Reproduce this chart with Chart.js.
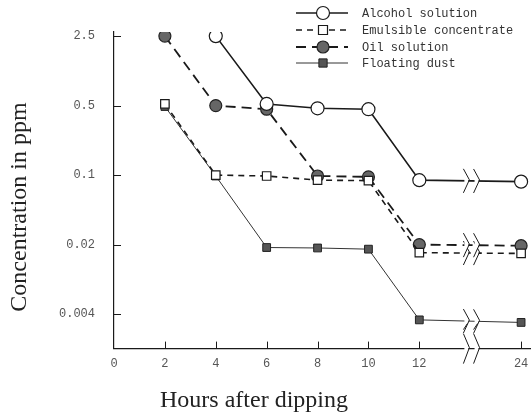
<!DOCTYPE html>
<html>
<head>
<meta charset="utf-8">
<script src="https://cdn.jsdelivr.net/npm/chart.js@4.4.1/dist/chart.umd.min.js"></script>
<style>
  html, body { margin: 0; padding: 0; background: #fff; }
  #wrap { width: 532px; height: 416px; position: relative; }
</style>
</head>
<body>
<div id="wrap"><canvas id="chart" width="532" height="416"></canvas></div>
<script>
// Часы после погружения (24 ч стоит за разрывом оси)
const hours = [2, 4, 6, 8, 10, 12, 24];
const alcohol = [null, 2.5, 0.52, 0.47, 0.46, 0.089, 0.086];
const emulsible = [0.52, 0.1, 0.098, 0.089, 0.088, 0.0166, 0.0163];
const oil = [2.5, 0.5, 0.46, 0.098, 0.096, 0.02, 0.0195];
const dust = [0.49, 0.098, 0.0187, 0.0185, 0.018, 0.0035, 0.0033];

const yTicks = [2.5, 0.5, 0.1, 0.02, 0.004];
const xTickHours = [0, 2, 4, 6, 8, 10, 12, 24];
const seriesNames = ['Alcohol solution', 'Emulsible concentrate', 'Oil solution', 'Floating dust'];

// Сжатая ось после 12 ч
const xPos = h => h > 12 ? 12 + (h - 12) / 3 : h;
const toPoints = vals => hours.map((h, i) => ({ x: xPos(h), y: vals[i] })).filter(p => p.y !== null);

const INK = '#1a1a1a';
const monoFont = { family: '"Liberation Mono", "DejaVu Sans Mono", monospace', size: 12 };
const serif = '"Liberation Serif", "DejaVu Serif", serif';

const datasets = [
    {
        label: seriesNames[0], data: toPoints(alcohol),
        borderColor: INK, borderWidth: 1.6, pointStyle: 'circle', pointRadius: 6.5,
        pointBackgroundColor: '#fff', pointBorderColor: INK, pointBorderWidth: 1.2
    },
    {
        label: seriesNames[1], data: toPoints(emulsible),
        borderColor: INK, borderWidth: 1.6, borderDash: [6, 5], pointStyle: 'rect', pointRadius: 6,
        pointBackgroundColor: '#fff', pointBorderColor: INK, pointBorderWidth: 1.2
    },
    {
        label: seriesNames[2], data: toPoints(oil),
        borderColor: INK, borderWidth: 1.8, borderDash: [10, 6], pointStyle: 'circle', pointRadius: 6,
        pointBackgroundColor: '#666', pointBorderColor: '#222', pointBorderWidth: 1.2
    },
    {
        label: seriesNames[3], data: toPoints(dust),
        borderColor: '#333', borderWidth: 1, pointStyle: 'rect', pointRadius: 5.5,
        pointBackgroundColor: '#555', pointBorderColor: '#222', pointBorderWidth: 1
    }
];

// Деления внутрь, знаки разрыва, подписи осей и легенда
const decorPlugin = {
    id: 'decor',
    afterDraw(chart) {
        const { ctx, chartArea: a, scales: { x, y } } = chart;
        ctx.save();
        ctx.strokeStyle = INK;
        ctx.lineWidth = 1;
        ctx.setLineDash([]);
        yTicks.forEach(v => {
            const py = Math.round(y.getPixelForValue(v)) + 0.5;
            ctx.beginPath(); ctx.moveTo(a.left, py); ctx.lineTo(a.left + 7, py); ctx.stroke();
        });
        xTickHours.forEach(h => {
            if (h === 0) return;
            const px = Math.round(x.getPixelForValue(xPos(h))) + 0.5;
            ctx.beginPath(); ctx.moveTo(px, a.bottom); ctx.lineTo(px, a.bottom - 7); ctx.stroke();
        });

        // разрыв между 12 и 24
        const breaks = [13.85, 14.25];
        const zig = (bx, by, h) => {
            ctx.fillStyle = '#fff';
            ctx.fillRect(bx - 2, by - 3, 4, 6);
            ctx.beginPath();
            ctx.moveTo(bx - 3, by - h);
            ctx.lineTo(bx + 3, by - 1);
            ctx.lineTo(bx - 3, by + h);
            ctx.stroke();
        };
        chart.data.datasets.forEach((ds, di) => {
            const pts = chart.getDatasetMeta(di).data;
            const p1 = pts[pts.length - 2], p2 = pts[pts.length - 1];
            breaks.forEach(b => {
                const bx = x.getPixelForValue(b);
                const t = (bx - p1.x) / (p2.x - p1.x);
                zig(bx, p1.y + t * (p2.y - p1.y), 12);
            });
        });
        breaks.forEach(b => zig(x.getPixelForValue(b), a.bottom, 15));
        breaks.forEach(b => {
            const bx = x.getPixelForValue(b);
            ctx.beginPath(); ctx.moveTo(bx - 3, a.bottom - 19); ctx.lineTo(bx + 1, a.bottom - 25); ctx.stroke();
        });

        // подписи осей
        ctx.fillStyle = '#222';
        ctx.font = '24px ' + serif;
        ctx.textAlign = 'center';
        ctx.textBaseline = 'middle';
        ctx.fillText('Hours after dipping', 254, 401);
        ctx.save();
        ctx.translate(20, 207);
        ctx.rotate(-Math.PI / 2);
        ctx.fillText('Concentration in ppm', 0, 0);
        ctx.restore();

        // легенда
        const lx0 = 296, lx1 = 348, tx = 362;
        const rows = [13, 30, 47, 63];
        ctx.font = '12px "Liberation Mono", "DejaVu Sans Mono", monospace';
        ctx.textAlign = 'left';
        chart.data.datasets.forEach((ds, di) => {
            const ly = rows[di];
            ctx.strokeStyle = ds.borderColor;
            ctx.lineWidth = ds.borderWidth;
            ctx.setLineDash(ds.borderDash || []);
            ctx.beginPath(); ctx.moveTo(lx0, ly); ctx.lineTo(lx1, ly); ctx.stroke();
            ctx.setLineDash([]);
            ctx.fillStyle = ds.pointBackgroundColor;
            ctx.strokeStyle = ds.pointBorderColor;
            ctx.lineWidth = ds.pointBorderWidth;
            const r = ds.pointRadius;
            const cx = 323;
            ctx.beginPath();
            if (ds.pointStyle === 'circle') ctx.arc(cx, ly, r, 0, Math.PI * 2);
            else ctx.rect(cx - r * 0.75, ly - r * 0.75, r * 1.5, r * 1.5);
            ctx.fill(); ctx.stroke();
            ctx.fillStyle = '#333';
            ctx.fillText(ds.label, tx, ly + 1);
        });
        ctx.restore();
    }
};

const ctx = document.getElementById('chart').getContext('2d');
new Chart(ctx, {
    type: 'line',
    data: { datasets: datasets },
    plugins: [decorPlugin],
    options: {
        responsive: false,
        animation: false,
        layout: { autoPadding: false, padding: { top: 32, right: 2, left: 0, bottom: 37 } },
        plugins: { legend: { display: false }, tooltip: { enabled: false } },
        scales: {
            x: {
                type: 'linear', min: 0, max: 16.35,
                afterBuildTicks: s => { s.ticks = xTickHours.map(h => ({ value: xPos(h) })); },
                afterFit: s => { s.paddingLeft = 0; s.paddingRight = 0; },
                ticks: {
                    font: monoFont, color: '#555', padding: 8, maxRotation: 0,
                    callback: v => { const i = xTickHours.findIndex(h => xPos(h) === v); return i < 0 ? '' : String(xTickHours[i]); }
                },
                grid: { display: false, drawTicks: false },
                border: { display: true, color: INK, width: 1.2 }
            },
            y: {
                type: 'logarithmic', min: 0.0018, max: 2.75,
                afterBuildTicks: s => { s.ticks = yTicks.map(v => ({ value: v })); },
                afterFit: s => { s.width = 114; },
                ticks: {
                    font: monoFont, color: '#555', padding: 19,
                    callback: v => String(v)
                },
                grid: { display: false, drawTicks: false },
                border: { display: true, color: INK, width: 1.2 }
            }
        }
    }
});
</script>
</body>
</html>
